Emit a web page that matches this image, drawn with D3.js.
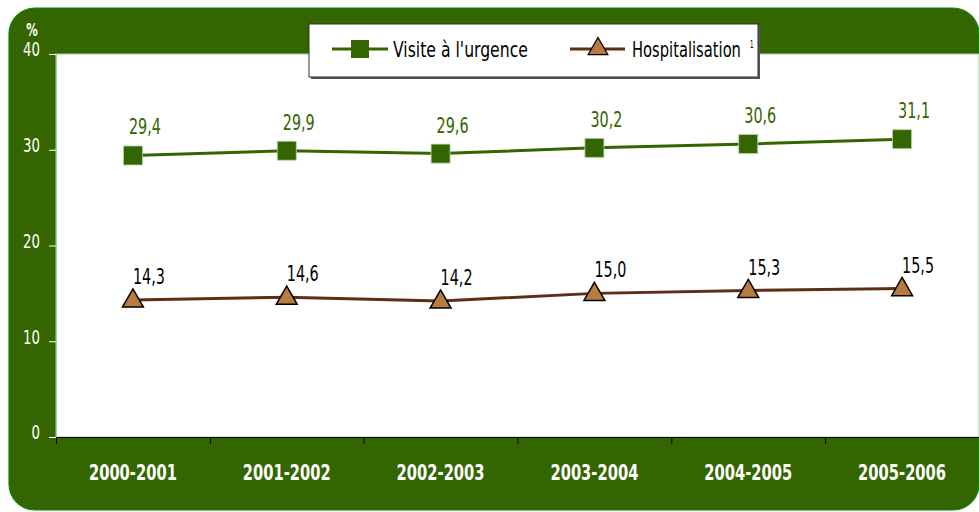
<!DOCTYPE html>
<html>
<head>
<meta charset="utf-8">
<script src="https://cdn.jsdelivr.net/npm/d3@7"></script>
<style>
  body { margin: 0; background: #fff; }
  svg text { font-family: "DejaVu Sans Condensed", "Liberation Sans Narrow", sans-serif; font-stretch: condensed; }
</style>
</head>
<body>
<div id="viz"></div>
<script>
var categories = ['2000-2001', '2001-2002', '2002-2003', '2003-2004', '2004-2005', '2005-2006'];
var urgence = [29.4, 29.9, 29.6, 30.2, 30.6, 31.1];
var hospitalisation = [14.3, 14.6, 14.2, 15.0, 15.3, 15.5];
var yTicks = [0, 10, 20, 30, 40];

var W = 979, H = 512;
var margin = { top: 54, right: 0, bottom: 75, left: 56 };
var green = '#336600', brown = '#5e2f17', tri = '#b87c40';

var fmt = function(v) { return d3.format('.1f')(v).replace('.', ','); };

// squeeze text horizontally to mimic the narrow font of the original
function squeeze(sel, k) {
  sel.each(function() {
    var l = this.getComputedTextLength();
    d3.select(this)
      .attr('textLength', l * k)
      .attr('lengthAdjust', 'spacingAndGlyphs');
  });
}

// same idea but with a transform, so the box of the text shrinks too
function fitTo(sel, px, py, w) {
  sel.each(function() {
    var l = this.getComputedTextLength();
    d3.select(this)
      .attr('transform', 'translate(' + px + ',' + py + ') scale(' + (w / l) + ',1)');
  });
}

var svg = d3.select('#viz').append('svg')
  .attr('width', W)
  .attr('height', H);

// green frame
svg.append('rect')
  .attr('x', 9).attr('y', 8)
  .attr('width', 970).attr('height', 502)
  .attr('rx', 26).attr('ry', 26)
  .attr('fill', green)
  .attr('stroke', '#0a8a0a')
  .attr('stroke-width', 1.2);

var x = d3.scaleBand()
  .domain(categories)
  .range([margin.left, W - margin.right]);

var y = d3.scaleLinear()
  .domain([0, 40])
  .range([H - margin.bottom, margin.top]);

// white plot area
svg.append('rect')
  .attr('x', margin.left).attr('y', y(40))
  .attr('width', W - margin.right - margin.left)
  .attr('height', y(0) - y(40))
  .attr('fill', '#fff')
  .attr('stroke', '#9fd09f')
  .attr('stroke-width', 1);

// y axis
var yGuide = svg.append('g')
  .attr('transform', 'translate(' + margin.left + ',0)')
  .call(d3.axisLeft(y).tickValues(yTicks).tickSize(7).tickPadding(9));
yGuide.select('.domain').attr('stroke', '#9fd09f');
yGuide.selectAll('.tick line').attr('stroke', '#fff');
yGuide.selectAll('.tick text')
  .attr('fill', '#fff')
  .attr('dy', '0.1em')
  .attr('font-size', null)
  .style('font-size', '19px')
  .call(squeeze, 0.78);

svg.append('text')
  .attr('x', 32).attr('y', 36)
  .attr('text-anchor', 'middle')
  .attr('fill', '#fff')
  .style('font-size', '17px')
  .style('font-weight', 'bold')
  .text('%')
  .call(squeeze, 0.75);

// x axis
var xGuide = svg.append('g')
  .attr('transform', 'translate(0,' + y(0) + ')')
  .call(d3.axisBottom(x).tickSize(0).tickPadding(28));
xGuide.select('.domain').attr('stroke', '#000').attr('stroke-width', 1.2);
xGuide.selectAll('.tick text')
  .attr('fill', '#fff')
  .style('font-size', '21px')
  .style('font-weight', 'bold')
  .attr('textLength', 88)
  .attr('lengthAdjust', 'spacingAndGlyphs');

xGuide.selectAll('.sep')
  .data(categories)
  .enter().append('line')
  .attr('class', 'sep')
  .attr('x1', function(d) { return x(d) + 0.5; })
  .attr('x2', function(d) { return x(d) + 0.5; })
  .attr('y1', 0).attr('y2', 7)
  .attr('stroke', '#000');

var cx = function(d, i) { return x(categories[i]) + x.bandwidth() / 2; };

var line = d3.line()
  .x(function(d, i) { return x(categories[i]) + x.bandwidth() / 2; })
  .y(function(d) { return y(d); });

// urgence series
svg.append('path')
  .datum(urgence)
  .attr('d', line)
  .attr('fill', 'none')
  .attr('stroke', green)
  .attr('stroke-width', 3);

svg.selectAll('.sq')
  .data(urgence)
  .enter().append('rect')
  .attr('class', 'sq')
  .attr('x', function(d, i) { return cx(d, i) - 9.5; })
  .attr('y', function(d) { return y(d) - 9.5; })
  .attr('width', 19).attr('height', 19)
  .attr('fill', green)
  .attr('stroke', '#b9d3a8')
  .attr('stroke-width', 0.8);

svg.selectAll('.lblU')
  .data(urgence)
  .enter().append('text')
  .attr('class', 'lblU')
  .attr('x', function(d, i) { return cx(d, i) + 12; })
  .attr('y', function(d) { return y(d) - 21; })
  .attr('text-anchor', 'middle')
  .attr('fill', green)
  .style('font-size', '21px')
  .text(fmt)
  .call(squeeze, 0.76);

// hospitalisation series
svg.append('path')
  .datum(hospitalisation)
  .attr('d', line)
  .attr('fill', 'none')
  .attr('stroke', brown)
  .attr('stroke-width', 3);

var triangle = d3.symbol().type(d3.symbolTriangle).size(190);

svg.selectAll('.tri')
  .data(hospitalisation)
  .enter().append('path')
  .attr('class', 'tri')
  .attr('d', triangle)
  .attr('transform', function(d, i) { return 'translate(' + cx(d, i) + ',' + (y(d) + 1) + ')'; })
  .attr('fill', tri)
  .attr('stroke', '#000')
  .attr('stroke-width', 1.5);

svg.selectAll('.lblH')
  .data(hospitalisation)
  .enter().append('text')
  .attr('class', 'lblH')
  .attr('x', function(d, i) { return cx(d, i) + 16; })
  .attr('y', function(d) { return y(d) - 16; })
  .attr('text-anchor', 'middle')
  .attr('fill', '#000')
  .style('font-size', '21px')
  .text(fmt)
  .call(squeeze, 0.76);

// legend
var legend = svg.append('g');
legend.append('rect')
  .attr('x', 311).attr('y', 26)
  .attr('width', 449).attr('height', 53)
  .attr('fill', '#555');
legend.append('rect')
  .attr('x', 309).attr('y', 24)
  .attr('width', 449).attr('height', 53)
  .attr('fill', '#fff')
  .attr('stroke', '#333')
  .attr('stroke-width', 1);

legend.append('line')
  .attr('x1', 332).attr('x2', 388).attr('y1', 49).attr('y2', 49)
  .attr('stroke', green).attr('stroke-width', 3);
legend.append('rect')
  .attr('x', 351).attr('y', 40).attr('width', 18).attr('height', 18)
  .attr('fill', green);
legend.append('text')
  .attr('fill', '#000')
  .style('font-size', '22px')
  .text("Visite  à  l'urgence")
  .call(fitTo, 393, 57, 135);

legend.append('line')
  .attr('x1', 570).attr('x2', 625).attr('y1', 49).attr('y2', 49)
  .attr('stroke', brown).attr('stroke-width', 3);
legend.append('path')
  .attr('d', d3.symbol().type(d3.symbolTriangle).size(170))
  .attr('transform', 'translate(598,49)')
  .attr('fill', tri)
  .attr('stroke', '#000')
  .attr('stroke-width', 1.2);
legend.append('text')
  .attr('fill', '#000')
  .style('font-size', '22px')
  .text('Hospitalisation')
  .call(fitTo, 632, 57, 109);
legend.append('text')
  .attr('fill', '#000')
  .style('font-size', '11px')
  .text('1')
  .call(fitTo, 750, 48, 3.5);
</script>
</body>
</html>
